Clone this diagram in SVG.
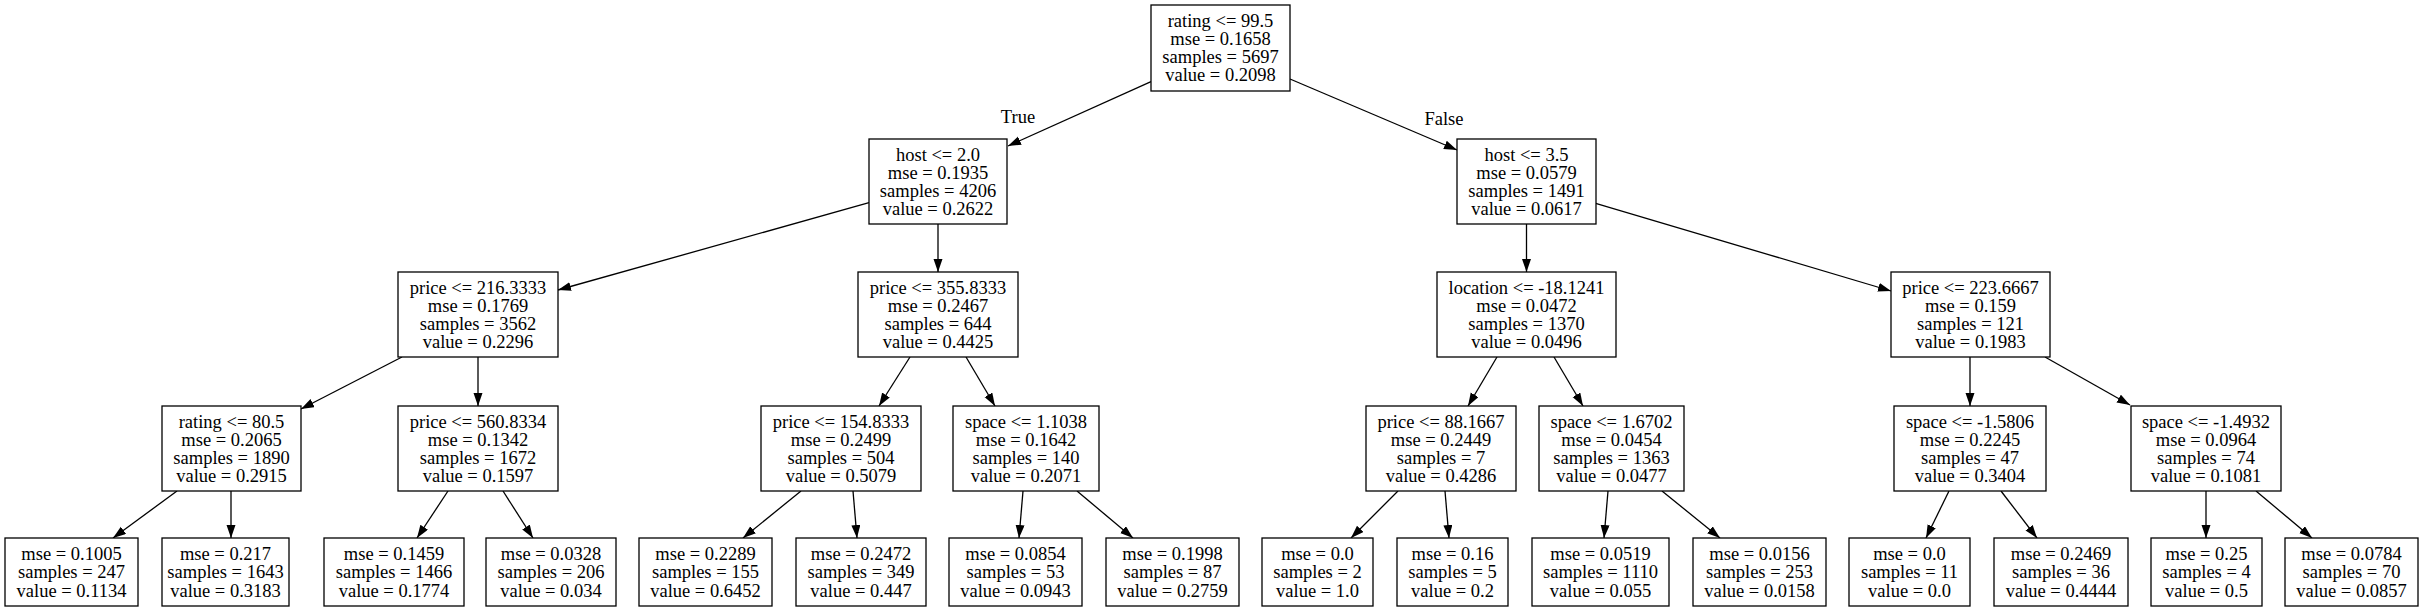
<svg xmlns="http://www.w3.org/2000/svg" width="2423" height="611" viewBox="0 0 2423 611">
<style>
rect{fill:#fff;stroke:#000;stroke-width:1.3}
text{font-family:"Liberation Serif","Times New Roman",serif;font-size:18.5px;text-anchor:middle;fill:#000}
.e line{stroke:#000;stroke-width:1.3;marker-end:url(#ah)}
</style>
<defs>
<marker id="ah" markerWidth="14" markerHeight="10" refX="13" refY="4.5" orient="auto" markerUnits="userSpaceOnUse"><path d="M0,0L13,4.5L0,9z" fill="#000"/></marker>
</defs>
<rect x="0" y="0" width="2423" height="611" style="stroke:none"/>
<g class="e" id="edges">
<line x1="1151" y1="81.7" x2="1008" y2="146"/>
<line x1="1290" y1="79" x2="1457" y2="150"/>
<line x1="869" y1="202.7" x2="558" y2="290"/>
<line x1="938" y1="224" x2="938" y2="272"/>
<line x1="1526.5" y1="224" x2="1526.5" y2="272"/>
<line x1="1595.7" y1="203.3" x2="1891" y2="291"/>
<line x1="402" y1="357" x2="301" y2="409"/>
<line x1="478" y1="357" x2="478" y2="406"/>
<line x1="910" y1="357" x2="879" y2="406"/>
<line x1="966" y1="357" x2="995" y2="406"/>
<line x1="1497" y1="357" x2="1468" y2="406"/>
<line x1="1554" y1="357" x2="1583" y2="406"/>
<line x1="1970" y1="357" x2="1970" y2="406"/>
<line x1="2045" y1="357" x2="2130" y2="405"/>
<line x1="177" y1="491" x2="113" y2="538"/>
<line x1="231" y1="491" x2="231" y2="538"/>
<line x1="448" y1="491" x2="417" y2="538"/>
<line x1="503" y1="491" x2="533" y2="538"/>
<line x1="801" y1="491" x2="743" y2="538"/>
<line x1="853" y1="491" x2="857" y2="538"/>
<line x1="1023" y1="491" x2="1019" y2="538"/>
<line x1="1077" y1="491" x2="1133" y2="538"/>
<line x1="1398" y1="491" x2="1351" y2="538"/>
<line x1="1445" y1="491" x2="1449" y2="538"/>
<line x1="1608" y1="491" x2="1604" y2="538"/>
<line x1="1662" y1="491" x2="1720" y2="538"/>
<line x1="1949" y1="491" x2="1926" y2="538"/>
<line x1="2001" y1="491" x2="2037" y2="538"/>
<line x1="2206" y1="491" x2="2206" y2="538"/>
<line x1="2256" y1="491" x2="2312" y2="538"/>
<text x="1018" y="123">True</text>
<text x="1444" y="125">False</text>
</g>
<g id="n0"><rect x="1151" y="5" width="139" height="86"/><text x="1220.5" y="26.5">rating &lt;= 99.5</text><text x="1220.5" y="44.8">mse = 0.1658</text><text x="1220.5" y="63.1">samples = 5697</text><text x="1220.5" y="81.4">value = 0.2098</text></g>
<g id="n1"><rect x="869" y="139" width="138" height="85"/><text x="938" y="160.5">host &lt;= 2.0</text><text x="938" y="178.8">mse = 0.1935</text><text x="938" y="197.1">samples = 4206</text><text x="938" y="215.4">value = 0.2622</text></g>
<g id="n2"><rect x="1457" y="139" width="139" height="85"/><text x="1526.5" y="160.5">host &lt;= 3.5</text><text x="1526.5" y="178.8">mse = 0.0579</text><text x="1526.5" y="197.1">samples = 1491</text><text x="1526.5" y="215.4">value = 0.0617</text></g>
<g id="n3"><rect x="398" y="272" width="160" height="85"/><text x="478" y="293.5">price &lt;= 216.3333</text><text x="478" y="311.8">mse = 0.1769</text><text x="478" y="330.1">samples = 3562</text><text x="478" y="348.4">value = 0.2296</text></g>
<g id="n4"><rect x="858" y="272" width="160" height="85"/><text x="938" y="293.5">price &lt;= 355.8333</text><text x="938" y="311.8">mse = 0.2467</text><text x="938" y="330.1">samples = 644</text><text x="938" y="348.4">value = 0.4425</text></g>
<g id="n5"><rect x="1437" y="272" width="179" height="85"/><text x="1526.5" y="293.5">location &lt;= -18.1241</text><text x="1526.5" y="311.8">mse = 0.0472</text><text x="1526.5" y="330.1">samples = 1370</text><text x="1526.5" y="348.4">value = 0.0496</text></g>
<g id="n6"><rect x="1891" y="272" width="159" height="85"/><text x="1970.5" y="293.5">price &lt;= 223.6667</text><text x="1970.5" y="311.8">mse = 0.159</text><text x="1970.5" y="330.1">samples = 121</text><text x="1970.5" y="348.4">value = 0.1983</text></g>
<g id="n7"><rect x="162" y="406" width="139" height="85"/><text x="231.5" y="427.5">rating &lt;= 80.5</text><text x="231.5" y="445.8">mse = 0.2065</text><text x="231.5" y="464.1">samples = 1890</text><text x="231.5" y="482.4">value = 0.2915</text></g>
<g id="n8"><rect x="398" y="406" width="160" height="85"/><text x="478" y="427.5">price &lt;= 560.8334</text><text x="478" y="445.8">mse = 0.1342</text><text x="478" y="464.1">samples = 1672</text><text x="478" y="482.4">value = 0.1597</text></g>
<g id="n9"><rect x="761" y="406" width="160" height="85"/><text x="841" y="427.5">price &lt;= 154.8333</text><text x="841" y="445.8">mse = 0.2499</text><text x="841" y="464.1">samples = 504</text><text x="841" y="482.4">value = 0.5079</text></g>
<g id="n10"><rect x="953" y="406" width="146" height="85"/><text x="1026" y="427.5">space &lt;= 1.1038</text><text x="1026" y="445.8">mse = 0.1642</text><text x="1026" y="464.1">samples = 140</text><text x="1026" y="482.4">value = 0.2071</text></g>
<g id="n11"><rect x="1366" y="406" width="150" height="85"/><text x="1441" y="427.5">price &lt;= 88.1667</text><text x="1441" y="445.8">mse = 0.2449</text><text x="1441" y="464.1">samples = 7</text><text x="1441" y="482.4">value = 0.4286</text></g>
<g id="n12"><rect x="1539" y="406" width="145" height="85"/><text x="1611.5" y="427.5">space &lt;= 1.6702</text><text x="1611.5" y="445.8">mse = 0.0454</text><text x="1611.5" y="464.1">samples = 1363</text><text x="1611.5" y="482.4">value = 0.0477</text></g>
<g id="n13"><rect x="1894" y="406" width="152" height="85"/><text x="1970" y="427.5">space &lt;= -1.5806</text><text x="1970" y="445.8">mse = 0.2245</text><text x="1970" y="464.1">samples = 47</text><text x="1970" y="482.4">value = 0.3404</text></g>
<g id="n14"><rect x="2131" y="406" width="150" height="85"/><text x="2206" y="427.5">space &lt;= -1.4932</text><text x="2206" y="445.8">mse = 0.0964</text><text x="2206" y="464.1">samples = 74</text><text x="2206" y="482.4">value = 0.1081</text></g>
<g id="n15"><rect x="5" y="538" width="133" height="68"/><text x="71.5" y="560">mse = 0.1005</text><text x="71.5" y="578.3">samples = 247</text><text x="71.5" y="596.6">value = 0.1134</text></g>
<g id="n16"><rect x="162" y="538" width="127" height="68"/><text x="225.5" y="560">mse = 0.217</text><text x="225.5" y="578.3">samples = 1643</text><text x="225.5" y="596.6">value = 0.3183</text></g>
<g id="n17"><rect x="324" y="538" width="140" height="68"/><text x="394" y="560">mse = 0.1459</text><text x="394" y="578.3">samples = 1466</text><text x="394" y="596.6">value = 0.1774</text></g>
<g id="n18"><rect x="486" y="538" width="130" height="68"/><text x="551" y="560">mse = 0.0328</text><text x="551" y="578.3">samples = 206</text><text x="551" y="596.6">value = 0.034</text></g>
<g id="n19"><rect x="639" y="538" width="133" height="68"/><text x="705.5" y="560">mse = 0.2289</text><text x="705.5" y="578.3">samples = 155</text><text x="705.5" y="596.6">value = 0.6452</text></g>
<g id="n20"><rect x="796" y="538" width="130" height="68"/><text x="861" y="560">mse = 0.2472</text><text x="861" y="578.3">samples = 349</text><text x="861" y="596.6">value = 0.447</text></g>
<g id="n21"><rect x="949" y="538" width="133" height="68"/><text x="1015.5" y="560">mse = 0.0854</text><text x="1015.5" y="578.3">samples = 53</text><text x="1015.5" y="596.6">value = 0.0943</text></g>
<g id="n22"><rect x="1106" y="538" width="133" height="68"/><text x="1172.5" y="560">mse = 0.1998</text><text x="1172.5" y="578.3">samples = 87</text><text x="1172.5" y="596.6">value = 0.2759</text></g>
<g id="n23"><rect x="1262" y="538" width="111" height="68"/><text x="1317.5" y="560">mse = 0.0</text><text x="1317.5" y="578.3">samples = 2</text><text x="1317.5" y="596.6">value = 1.0</text></g>
<g id="n24"><rect x="1397" y="538" width="111" height="68"/><text x="1452.5" y="560">mse = 0.16</text><text x="1452.5" y="578.3">samples = 5</text><text x="1452.5" y="596.6">value = 0.2</text></g>
<g id="n25"><rect x="1532" y="538" width="137" height="68"/><text x="1600.5" y="560">mse = 0.0519</text><text x="1600.5" y="578.3">samples = 1110</text><text x="1600.5" y="596.6">value = 0.055</text></g>
<g id="n26"><rect x="1693" y="538" width="133" height="68"/><text x="1759.5" y="560">mse = 0.0156</text><text x="1759.5" y="578.3">samples = 253</text><text x="1759.5" y="596.6">value = 0.0158</text></g>
<g id="n27"><rect x="1849" y="538" width="121" height="68"/><text x="1909.5" y="560">mse = 0.0</text><text x="1909.5" y="578.3">samples = 11</text><text x="1909.5" y="596.6">value = 0.0</text></g>
<g id="n28"><rect x="1994" y="538" width="134" height="68"/><text x="2061" y="560">mse = 0.2469</text><text x="2061" y="578.3">samples = 36</text><text x="2061" y="596.6">value = 0.4444</text></g>
<g id="n29"><rect x="2151" y="538" width="111" height="68"/><text x="2206.5" y="560">mse = 0.25</text><text x="2206.5" y="578.3">samples = 4</text><text x="2206.5" y="596.6">value = 0.5</text></g>
<g id="n30"><rect x="2285" y="538" width="133" height="68"/><text x="2351.5" y="560">mse = 0.0784</text><text x="2351.5" y="578.3">samples = 70</text><text x="2351.5" y="596.6">value = 0.0857</text></g>
</svg>
